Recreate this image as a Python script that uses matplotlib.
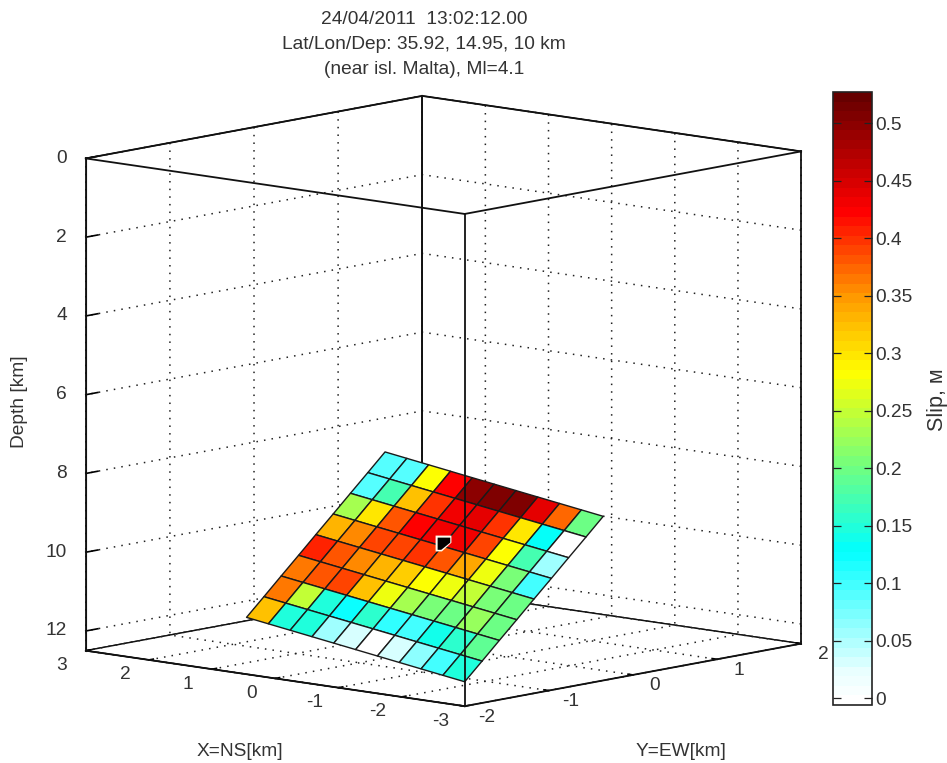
import numpy as np
import matplotlib
matplotlib.use("Agg")
import matplotlib.pyplot as plt
from matplotlib.colors import LinearSegmentedColormap, Normalize
from matplotlib.cm import ScalarMappable
from mpl_toolkits.mplot3d import proj3d

plt.rcParams['font.family'] = ['Liberation Sans', 'DejaVu Sans']

# slip on the fault, rows go down-dip
slip = [
    [0.09, 0.09, 0.28, 0.425, 0.50, 0.51, 0.51, 0.44, 0.37, 0.20],
    [0.09, 0.17, 0.32, 0.40, 0.43, 0.44, 0.40, 0.30, 0.13, 0.00],
    [0.23, 0.30, 0.38, 0.425, 0.43, 0.43, 0.39, 0.28, 0.17, 0.06],
    [0.33, 0.36, 0.39, 0.39, 0.40, 0.385, 0.34, 0.27, 0.21, 0.10],
    [0.41, 0.385, 0.36, 0.335, 0.315, 0.285, 0.27, 0.25, 0.21, 0.20],
    [0.365, 0.385, 0.39, 0.325, 0.275, 0.23, 0.205, 0.20, 0.22, 0.20],
    [0.365, 0.25, 0.15, 0.12, 0.155, 0.105, 0.10, 0.14, 0.16, 0.19],
    [0.32, 0.15, 0.15, 0.06, 0.035, 0.00, 0.03, 0.065, 0.095, 0.15],
]

# fault corners along the bottom edge (11 nodes) and offset going up-dip (9 nodes)
strike_x = [2.0, 1.5, 1.0, 0.5, 0.0, -0.5, -1.0, -1.5, -2.0, -2.5, -3.0]
strike_y = [-0.84, -0.956, -1.072, -1.188, -1.304, -1.42, -1.536, -1.652, -1.768, -1.884, -2.0]
dip_x = [-0.324, -0.284, -0.243, -0.203, -0.162, -0.122, -0.081, -0.041, 0.0]
dip_y = [1.404, 1.229, 1.053, 0.878, 0.702, 0.527, 0.351, 0.176, 0.0]
dip_z = [8.16, 8.625, 9.09, 9.555, 10.02, 10.485, 10.95, 11.415, 11.88]

hypo_x, hypo_y, hypo_z = -0.668, -0.51, 9.49

x_ticks = [-3, -2, -1, 0, 1, 2, 3]
y_ticks = [-2, -1, 0, 1, 2]
z_ticks = [0, 2, 4, 6, 8, 10, 12]
cb_ticks = [0, 0.05, 0.1, 0.15, 0.2, 0.25, 0.3, 0.35, 0.4, 0.45, 0.5]
cb_labels = ['0', '0.05', '0.1', '0.15', '0.2', '0.25', '0.3', '0.35', '0.4', '0.45', '0.5']

title_lines = ['24/04/2011  13:02:12.00',
               'Lat/Lon/Dep: 35.92, 14.95, 10 km',
               '(near isl. Malta), Ml=4.1']

vmin, vmax = -0.006, 0.527
cmap_stops = [(-0.006, '#ffffff'), (0.02, '#e8ffff'), (0.126, '#00ffff'), (0.2, '#70ff80'),
              (0.283, '#ffff00'), (0.35, '#ff9900'), (0.425, '#ff0000'), (0.527, '#660000')]
cmap = LinearSegmentedColormap.from_list(
    'slip', [((v - vmin) / (vmax - vmin), c) for v, c in cmap_stops], N=64)
norm = Normalize(vmin, vmax)

text_col = '#333333'
fs = 13.8

fig = plt.figure(figsize=(9.47, 7.63), dpi=100)
W, H = 947, 763

# box centre on the page is about (443.5, 402), limits of a 3d axes are a bit off centre
side = 700
cx, cy = 434, 410.5
ax = fig.add_axes([(cx - side / 2) / W, 1 - (cy + side / 2) / H, side / W, side / H],
                  projection='3d', computed_zorder=False)
ax.patch.set_alpha(0)
ax.set_proj_type('ortho')
ax.view_init(elev=9.5, azim=-48.4)
ax.set_box_aspect((1, 1, 0.985), zoom=1.211)
ax.set_xlim(3, -3)
ax.set_ylim(-2, 2)
ax.set_zlim(12.5, 0)

ax.set_xticks(x_ticks)
ax.set_yticks(y_ticks)
ax.set_zticks(z_ticks)
ax.set_xticklabels([])
ax.set_yticklabels([])
ax.set_zticklabels([])
ax.zaxis.set_ticks_position('lower')
for axis, tick_len in ((ax.xaxis, 0.16), (ax.yaxis, 0.16), (ax.zaxis, 0.45)):
    axis.set_pane_color((1, 1, 1, 1))
    axis.pane.set_edgecolor('#111111')
    axis.line.set_color('#111111')
    axis._axinfo['grid'].update(color='#222222', linewidth=1.1, linestyle=(0, (1, 4)))
    axis._axinfo['tick'].update(inward_factor=0.0, outward_factor=tick_len, linewidth={True: 1.2, False: 0.5})

X = np.add.outer(np.array(dip_x), np.array(strike_x))
Y = np.add.outer(np.array(dip_y), np.array(strike_y))
Z = np.tile(np.array(dip_z)[:, None], (1, 11))
ax.plot_surface(X, Y, Z, facecolors=cmap(norm(np.array(slip))), rstride=1, cstride=1,
                shade=False, edgecolor='#1a1a1a', linewidth=1.0, zorder=3)

# hypocentre sticks half out of the plane
white_part = [(-1, -1), (-1, 1), (1, 1), (1, 0.1), (-0.2, -1)]
black_part = [(-0.65, -0.7), (-0.65, 0.65), (0.75, 0.65), (0.75, 0.1), (-0.25, -0.7)]
ax.scatter([hypo_x], [hypo_y], [hypo_z], marker=white_part, s=130, c='#fffdf0', linewidths=0,
           depthshade=False, zorder=4)
ax.scatter([hypo_x], [hypo_y], [hypo_z], marker=black_part, s=95, c='black', linewidths=0,
           depthshade=False, zorder=5)

# remaining box edges, the back vertical stays behind the surface
back = dict(color='#111111', lw=1.3, zorder=2, clip_on=False)
ax.plot([3, 3], [2, 2], [0, 12.5], **back)
edge = dict(color='#111111', lw=1.3, zorder=6, clip_on=False)
ax.plot([3, -3], [-2, -2], [0, 0], **edge)
ax.plot([-3, -3], [-2, 2], [0, 0], **edge)
ax.plot([3, 3], [-2, 2], [0, 0], **edge)
ax.plot([3, -3], [2, 2], [0, 0], **edge)
ax.plot([-3, -3], [-2, -2], [0, 12.5], **edge)
ax.plot([3, 3], [-2, -2], [0, 12.5], **edge)
ax.plot([-3, -3], [2, 2], [0, 12.5], **edge)
ax.plot([3, -3], [-2, -2], [12.5, 12.5], **edge)
ax.plot([-3, -3], [-2, 2], [12.5, 12.5], **edge)


def tick_text(x, y, z, dx, dy, s, ha='center'):
    # tick label placed from the projected axis point, offset in pixels
    xs, ys, _ = proj3d.proj_transform(x, y, z, ax.get_proj())
    px, py = ax.transData.transform((xs, ys))
    fig.text((px + dx) / W, (py - dy) / H, s, ha=ha, va='center', fontsize=fs, color=text_col)


for v in x_ticks:
    tick_text(v, -2, 12.5, -24, 15, str(v))
for v in y_ticks:
    tick_text(-3, v, 12.5, 22, 11, str(v))
for v in z_ticks:
    tick_text(3, -2, v, -19, 0, str(v), ha='right')

for i, line in enumerate(title_lines):
    fig.text(424 / W, 1 - (19 + i * 25.5) / H, line, ha='center', va='center', fontsize=fs, color=text_col)
fig.text(240 / W, 1 - 752 / H, 'X=NS[km]', ha='center', va='center', fontsize=fs, color=text_col)
fig.text(681 / W, 1 - 752 / H, 'Y=EW[km]', ha='center', va='center', fontsize=fs, color=text_col)
fig.text(20 / W, 1 - 402 / H, 'Depth [km]', rotation=90, ha='center', va='center', fontsize=fs, color=text_col)

cax = fig.add_axes([833 / W, 1 - 705 / H, 39 / W, 613 / H])
cb = fig.colorbar(ScalarMappable(norm=norm, cmap=cmap), cax=cax)
cb.set_ticks(cb_ticks, labels=cb_labels)
cb.outline.set_edgecolor('#222222')
cb.outline.set_linewidth(1.2)
cax.tick_params(axis='y', direction='in', length=6, width=0.9, color='#222222', labelsize=fs,
                labelcolor=text_col, pad=2, left=True, right=True)
fig.text(937 / W, 1 - 400 / H, 'Slip, м', rotation=90, ha='center', va='center', fontsize=15.5, color=text_col)

fig.savefig('out.png', dpi=100)
